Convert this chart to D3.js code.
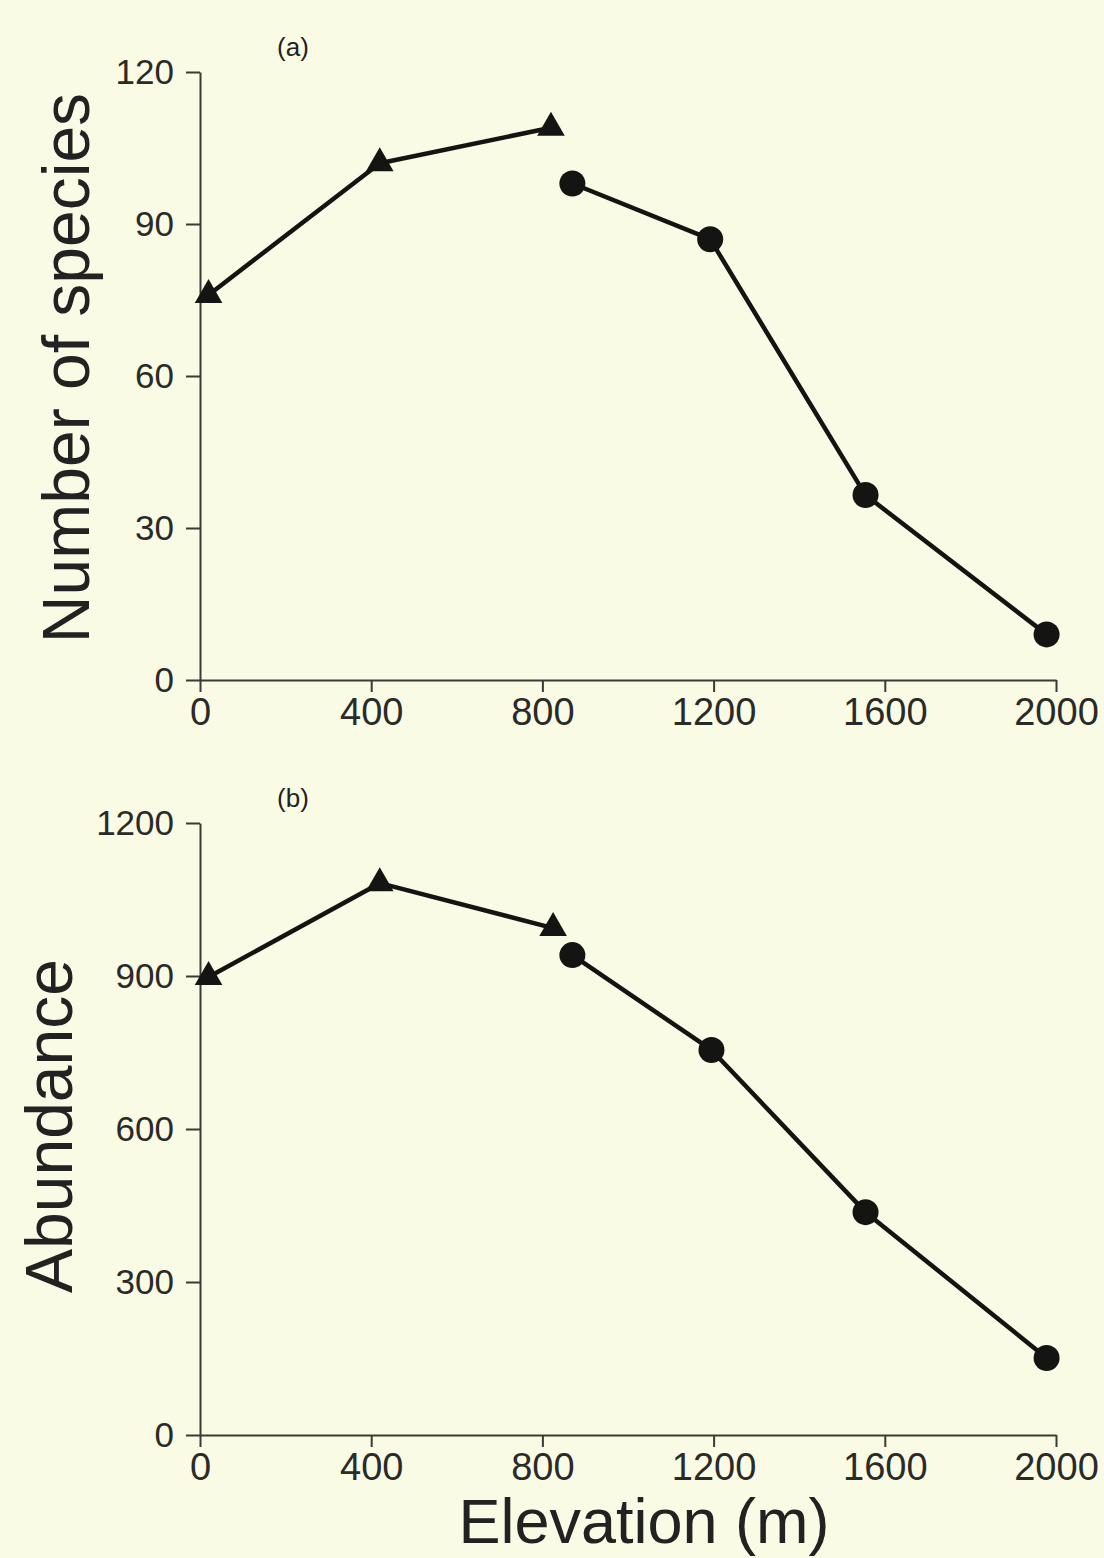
<!DOCTYPE html>
<html>
<head>
<meta charset="utf-8">
<script src="https://cdn.jsdelivr.net/npm/d3@7"></script>
<style>
  html, body { margin: 0; padding: 0; background: #fafbe4; }
  svg { display: block; }
  .axis path, .axis line { stroke: #3a3a36; stroke-width: 2px; }
  .axis text { font-family: "Liberation Sans", Arial, sans-serif; fill: #2a2a28; }
  .title { font-family: "Liberation Sans", Arial, sans-serif; fill: #222; }
  .series { fill: none; stroke: #141412; stroke-width: 4.5px; stroke-linejoin: round; }
  .mark { fill: #141412; }
</style>
</head>
<body>
<svg id="chart" width="1104" height="1558"></svg>
<script>
// elevation ticks shared by both panels
const xTicks = [0, 400, 800, 1200, 1600, 2000];

// (a) number of species
const speciesTri = [[20, 76], [420, 102], [820, 109]];
const speciesDot = [[870, 98], [1192, 87], [1555, 36.5], [1978, 9]];
const speciesTicks = [0, 30, 60, 90, 120];

// (b) abundance
const abundTri = [[20, 898], [420, 1082], [825, 994]];
const abundDot = [[870, 941], [1195, 755], [1555, 437], [1978, 151]];
const abundTicks = [0, 300, 600, 900, 1200];

const svg = d3.select("#chart");
const x = d3.scaleLinear().domain([0, 2000]).range([200, 1056]);
const fmt = d3.format("d");

function drawPanel(p) {
  const y = d3.scaleLinear().domain([0, p.max]).range([p.bottom, p.top]);
  const g = svg.append("g");

  g.append("g").attr("class", "axis")
    .attr("transform", `translate(0,${p.bottom})`)
    .call(d3.axisBottom(x).tickValues(xTicks).tickFormat(fmt)
      .tickSize(12).tickSizeOuter(0).tickPadding(6))
    .selectAll("text").style("font-size", "38px");

  g.append("g").attr("class", "axis")
    .attr("transform", `translate(${x(0)},0)`)
    .call(d3.axisLeft(y).tickValues(p.ticks).tickFormat(fmt)
      .tickSize(14).tickSizeOuter(0).tickPadding(12))
    .selectAll("text").style("font-size", "35px");

  const line = d3.line().x(d => x(d[0])).y(d => y(d[1]));
  g.append("path").attr("class", "series").attr("d", line(p.tri));
  g.append("path").attr("class", "series").attr("d", line(p.dot));

  g.selectAll("path.tri").data(p.tri).join("path")
    .attr("class", "mark tri")
    .attr("transform", d => `translate(${x(d[0])},${y(d[1])})`)
    .attr("d", d3.symbol(d3.symbolTriangle, 330));

  g.selectAll("circle.dot").data(p.dot).join("circle")
    .attr("class", "mark dot")
    .attr("cx", d => x(d[0])).attr("cy", d => y(d[1])).attr("r", 13);

  g.append("text").attr("class", "title")
    .attr("x", 293).attr("y", p.top - 16)
    .attr("text-anchor", "middle").style("font-size", "26px")
    .text(p.tag);

  g.append("text").attr("class", "title")
    .attr("transform", `translate(${p.titleX},${p.titleY}) rotate(-90)`)
    .attr("text-anchor", "middle").style("font-size", "66px")
    .text(p.title);
}

drawPanel({ max: 120, top: 72, bottom: 680, ticks: speciesTicks,
  tri: speciesTri, dot: speciesDot, tag: "(a)", title: "Number of species",
  titleX: 89, titleY: 368 });
drawPanel({ max: 1200, top: 823, bottom: 1435, ticks: abundTicks,
  tri: abundTri, dot: abundDot, tag: "(b)", title: "Abundance",
  titleX: 72, titleY: 1126 });

svg.append("text").attr("class", "title")
  .attr("x", 644).attr("y", 1543)
  .attr("text-anchor", "middle").style("font-size", "63px")
  .text("Elevation (m)");
</script>
</body>
</html>
